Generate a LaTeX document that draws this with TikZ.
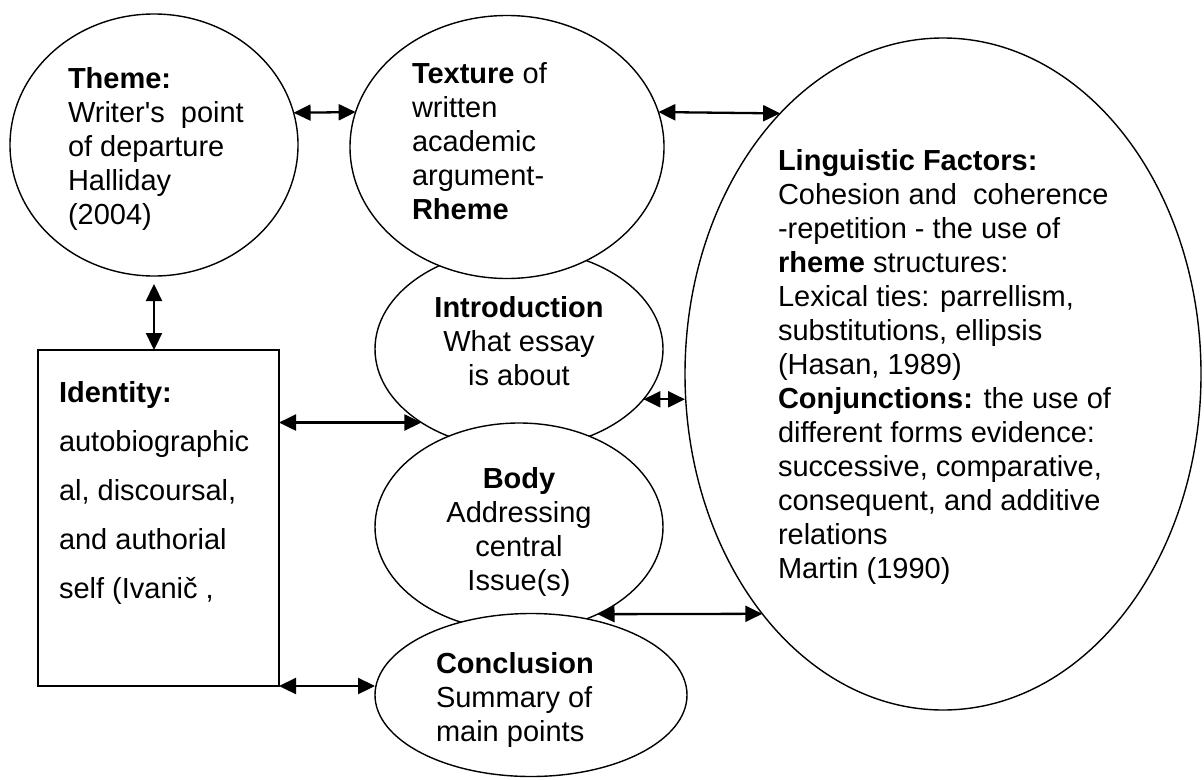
\documentclass[tikz,border=0pt]{standalone}
\usepackage{fontspec}
\setmainfont{Liberation Sans}[Ligatures=TeXOff]
\usepackage{tikz}
\usetikzlibrary{arrows, arrows.meta, positioning, shapes}

\begin{document}
\begin{tikzpicture}[x=1pt, y=-1pt,
  every node/.style={inner sep=0pt, outer sep=0pt},
  bubble/.style={draw, ellipse, fill=white, line width=1.4pt},
  txt/.style={draw=none, align=left, font=\fontsize{29}{34}\selectfont},
  twoway/.style={{Triangle[length=17pt,width=16pt]}-{Triangle[length=17pt,width=16pt]}, line width=2.3pt}]

\useasboundingbox (0,0) rectangle (1204,779);

% bubbles from back to front
\node[bubble, minimum width=288pt, minimum height=262pt] (theme)   at (154,145) {};
\node[bubble, minimum width=288pt, minimum height=200pt] (intro)   at (519,349) {};
\node[bubble, minimum width=314pt, minimum height=263pt] (texture) at (507,147) {};
\node[bubble, minimum width=288pt, minimum height=208pt] (body)    at (519,527) {};
\node[bubble, minimum width=312pt, minimum height=163pt] (concl)   at (531,695) {};
\node[bubble, minimum width=516pt, minimum height=672pt] (ling)    at (943,374) {};

% identity box
\node[draw, line width=2pt, minimum width=241pt, minimum height=336pt] (ident) at (158.5,518) {};

% text from left to right
\node[txt, anchor=north west] (themetxt) at (68,67)
  {\textbf{Theme:}\\Writer's\ \ point\\of departure\\Halliday\\(2004)};
\node[txt, anchor=north west, font=\fontsize{29}{49}\selectfont] (identtxt) at (59,381)
  {\textbf{Identity:}\\autobiographic\\al, discoursal,\\and authorial\\self (Ivanič ,};
\node[txt, anchor=north west] (texturetxt) at (412,63)
  {\textbf{Texture} of\\written\\academic\\argument-\\\textbf{Rheme}};
\node[txt, anchor=north, align=center] (introtxt) at (519,296)
  {\textbf{Introduction}\\What essay\\is about};
\node[txt, anchor=north, align=center] (bodytxt) at (519,467)
  {\textbf{Body}\\Addressing\\central\\Issue(s)};
\node[txt, anchor=north west] (concltxt) at (436,652)
  {\textbf{Conclusion}\\Summary of\\main points};
\node[txt, anchor=north west] (lingtxt) at (778,149)
  {\textbf{Linguistic Factors:}\\Cohesion and\ \ coherence\\-repetition - the use of\\\textbf{rheme} structures:\\Lexical ties: parrellism,\\substitutions, ellipsis\\(Hasan, 1989)\\\textbf{Conjunctions:} the use of\\different forms evidence:\\successive, comparative,\\consequent, and additive\\relations\\Martin (1990)};

% connectors from top to bottom
\draw[twoway] (theme.13) -- (texture.167);
\draw[twoway] (texture.13) -- (ling.122);
\draw[twoway, shorten <=8pt] (theme.south) -- (theme.south |- ident.north);
\draw[twoway] (intro.-22) -- (intro.-22 -| ling.west);
\draw[twoway] (intro.217 -| ident.east) -- (intro.217);
\draw[twoway] (body.-48) -- (ling.233);
\draw[twoway] (ident.south east) -- (ident.south east -| concl.west);

\end{tikzpicture}
\end{document}
